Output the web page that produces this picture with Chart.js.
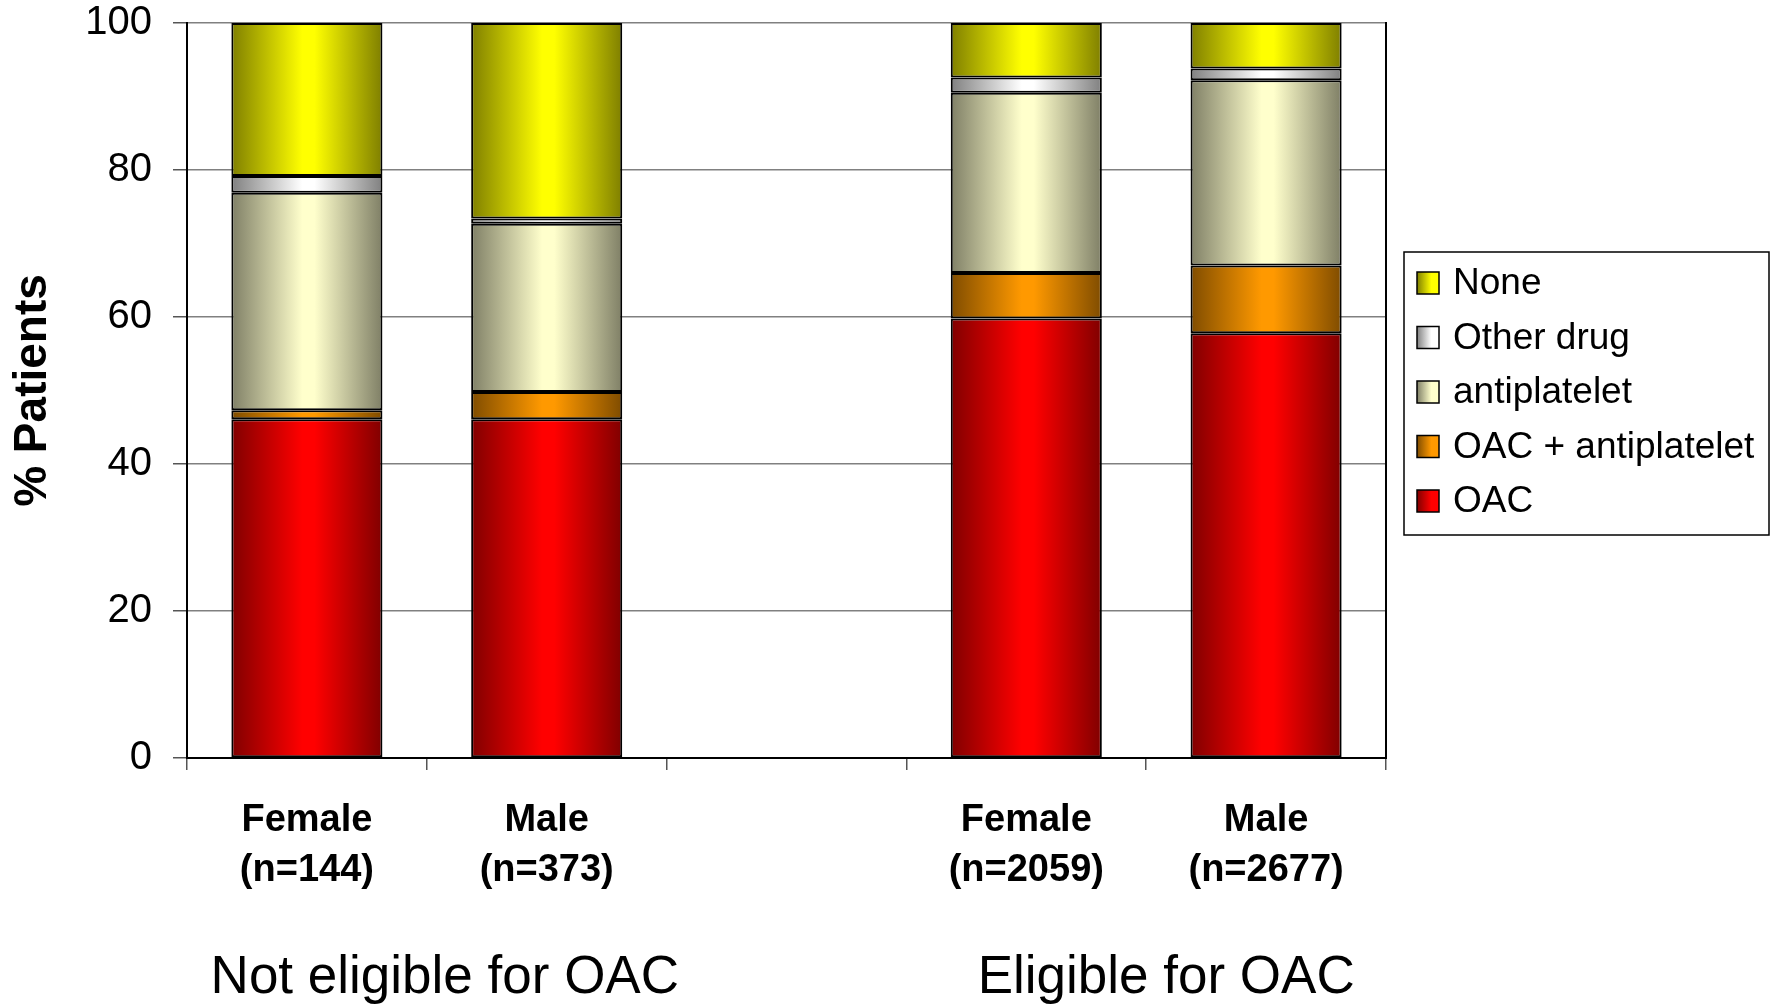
<!DOCTYPE html>
<html>
<head>
<meta charset="utf-8">
<title>Antithrombotic treatment by sex and OAC eligibility</title>
<script src="https://cdn.jsdelivr.net/npm/chart.js@4.4.1/dist/chart.umd.min.js"></script>
<style>
  html, body { margin: 0; padding: 0; background: #ffffff; }
  canvas { display: block; }
</style>
</head>
<body>
<canvas id="chart" width="1778" height="1004"></canvas>
<script>
// Patient groups (an empty slot separates the two eligibility groups)
const categories = [
  ['Female', '(n=144)'],
  ['Male', '(n=373)'],
  '',
  ['Female', '(n=2059)'],
  ['Male', '(n=2677)']
];
const groupLabels = ['Not eligible for OAC', 'Eligible for OAC'];

// Percentage of patients per treatment
const oac             = [46.1, 46.1, null, 59.8, 57.8];
const oacAntiplatelet = [ 1.2,  3.7, null,  6.2,  9.2];
const antiplatelet    = [29.6, 22.9, null, 24.5, 25.2];
const otherDrug       = [ 2.3,  0.7, null,  2.1,  1.6];
const noTreatment     = [20.8, 26.6, null,  7.4,  6.2];

const yTicks = [0, 20, 40, 60, 80, 100];

const FONT = '"Liberation Sans", Arial, Helvetica, sans-serif';
const BAR_FRACTION = 0.63;

// Shaded fills: dark at the bar edges, bright in the middle
const shades = {
  oac:          ['#800000', '#ff0000'],
  oacAnti:      ['#7f4c00', '#ff9900'],
  antiplatelet: ['#7f7f66', '#ffffcc'],
  other:        ['#808080', '#ffffff'],
  none:         ['#7f7f00', '#ffff00']
};

function barFill(pair) {
  return function (ctx) {
    const chart = ctx.chart;
    const xs = chart.scales && chart.scales.x;
    const area = chart.chartArea;
    if (!xs || !area || ctx.dataIndex == null) return pair[1];
    const c = xs.getPixelForValue(ctx.dataIndex);
    const w = (area.right - area.left) / categories.length * BAR_FRACTION;
    const g = chart.ctx.createLinearGradient(c - w / 2, 0, c + w / 2, 0);
    g.addColorStop(0, pair[0]);
    g.addColorStop(0.47, pair[1]);
    g.addColorStop(0.55, pair[1]);
    g.addColorStop(1, pair[0]);
    return g;
  };
}

function series(label, data, pair) {
  return {
    label: label,
    data: data,
    shade: pair,
    backgroundColor: barFill(pair),
    borderColor: '#000000',
    borderWidth: 2,
    borderSkipped: false,
    barPercentage: BAR_FRACTION,
    categoryPercentage: 1.0
  };
}

// Group captions under the category labels, and the boxed legend on the right
const annotations = {
  id: 'annotations',
  afterDraw(chart) {
    const ctx = chart.ctx;
    const xs = chart.scales.x;
    const area = chart.chartArea;
    ctx.save();

    // group captions
    ctx.fillStyle = '#000000';
    ctx.font = '53px ' + FONT;
    ctx.textAlign = 'center';
    ctx.textBaseline = 'alphabetic';
    const g1 = (xs.getPixelForValue(0) + xs.getPixelForValue(1)) / 2 + 18;
    const g2 = (xs.getPixelForValue(3) + xs.getPixelForValue(4)) / 2 + 20;
    ctx.fillText(groupLabels[0], g1, 993);
    ctx.fillText(groupLabels[1], g2, 993);

    // legend
    const L = area.right + 18, T = 252, W = 365, H = 283;
    ctx.lineWidth = 1.5;
    ctx.strokeStyle = '#000000';
    ctx.strokeRect(L, T, W, H);
    const items = chart.data.datasets.slice().reverse();
    ctx.font = '37px ' + FONT;
    ctx.textAlign = 'left';
    ctx.textBaseline = 'middle';
    items.forEach((ds, i) => {
      const cy = T + 31 + i * 54.5;
      const sx = L + 13, s = 22;
      const g = ctx.createLinearGradient(sx, 0, sx + s, 0);
      g.addColorStop(0, ds.shade[0]);
      g.addColorStop(0.65, ds.shade[1]);
      g.addColorStop(1, ds.shade[1]);
      ctx.fillStyle = g;
      ctx.fillRect(sx, cy - s / 2, s, s);
      ctx.lineWidth = 1.5;
      ctx.strokeRect(sx, cy - s / 2, s, s);
      ctx.fillStyle = '#000000';
      ctx.fillText(ds.label, L + 49, cy + 1);
    });
    ctx.restore();
  }
};

new Chart(document.getElementById('chart'), {
  type: 'bar',
  data: {
    labels: categories,
    datasets: [
      series('OAC', oac, shades.oac),
      series('OAC + antiplatelet', oacAntiplatelet, shades.oacAnti),
      series('antiplatelet', antiplatelet, shades.antiplatelet),
      series('Other drug', otherDrug, shades.other),
      series('None', noTreatment, shades.none)
    ]
  },
  options: {
    responsive: false,
    devicePixelRatio: 1,
    animation: false,
    events: [],
    layout: { padding: { left: 0, top: 23, right: 392, bottom: 0 } },
    plugins: {
      legend: { display: false },
      tooltip: { enabled: false },
      title: { display: false }
    },
    scales: {
      x: {
        stacked: true,
        offset: true,
        grid: {
          offset: true,
          drawOnChartArea: false,
          drawTicks: true,
          tickLength: 12,
          tickColor: '#555555',
          lineWidth: 1.5
        },
        border: { display: true, color: '#000000', width: 2 },
        ticks: {
          color: '#000000',
          padding: 25,
          maxRotation: 0,
          autoSkip: false,
          font: { family: FONT, size: 38, weight: 'bold', lineHeight: 1.32 }
        },
        afterFit(scale) {
          scale.height = 246;
          scale.paddingLeft = 0;
          scale.paddingRight = 0;
        }
      },
      y: {
        stacked: true,
        min: 0,
        max: 100,
        afterBuildTicks(scale) { scale.ticks = yTicks.map(v => ({ value: v })); },
        grid: {
          color: '#808080',
          lineWidth: 1.5,
          drawTicks: true,
          tickLength: 14,
          tickColor: '#555555'
        },
        border: { display: true, color: '#000000', width: 2 },
        ticks: {
          color: '#000000',
          padding: 21,
          font: { family: FONT, size: 40, lineHeight: 1.0 }
        },
        title: {
          display: true,
          text: '% Patients',
          color: '#000000',
          font: { family: FONT, size: 46, weight: 'bold', lineHeight: 1.2 },
          padding: { top: 6, bottom: 0 }
        },
        afterFit(scale) {
          scale.width = 187;
          scale.paddingTop = 0;
          scale.paddingBottom = 0;
        }
      },
      frame: {
        type: 'linear',
        position: 'right',
        min: 0,
        max: 100,
        grid: { drawOnChartArea: false, drawTicks: false },
        border: { display: true, color: '#000000', width: 2 },
        ticks: { display: false },
        afterFit(scale) {
          scale.width = 0;
          scale.paddingTop = 0;
          scale.paddingBottom = 0;
        }
      }
    }
  },
  plugins: [annotations]
});
</script>
</body>
</html>
